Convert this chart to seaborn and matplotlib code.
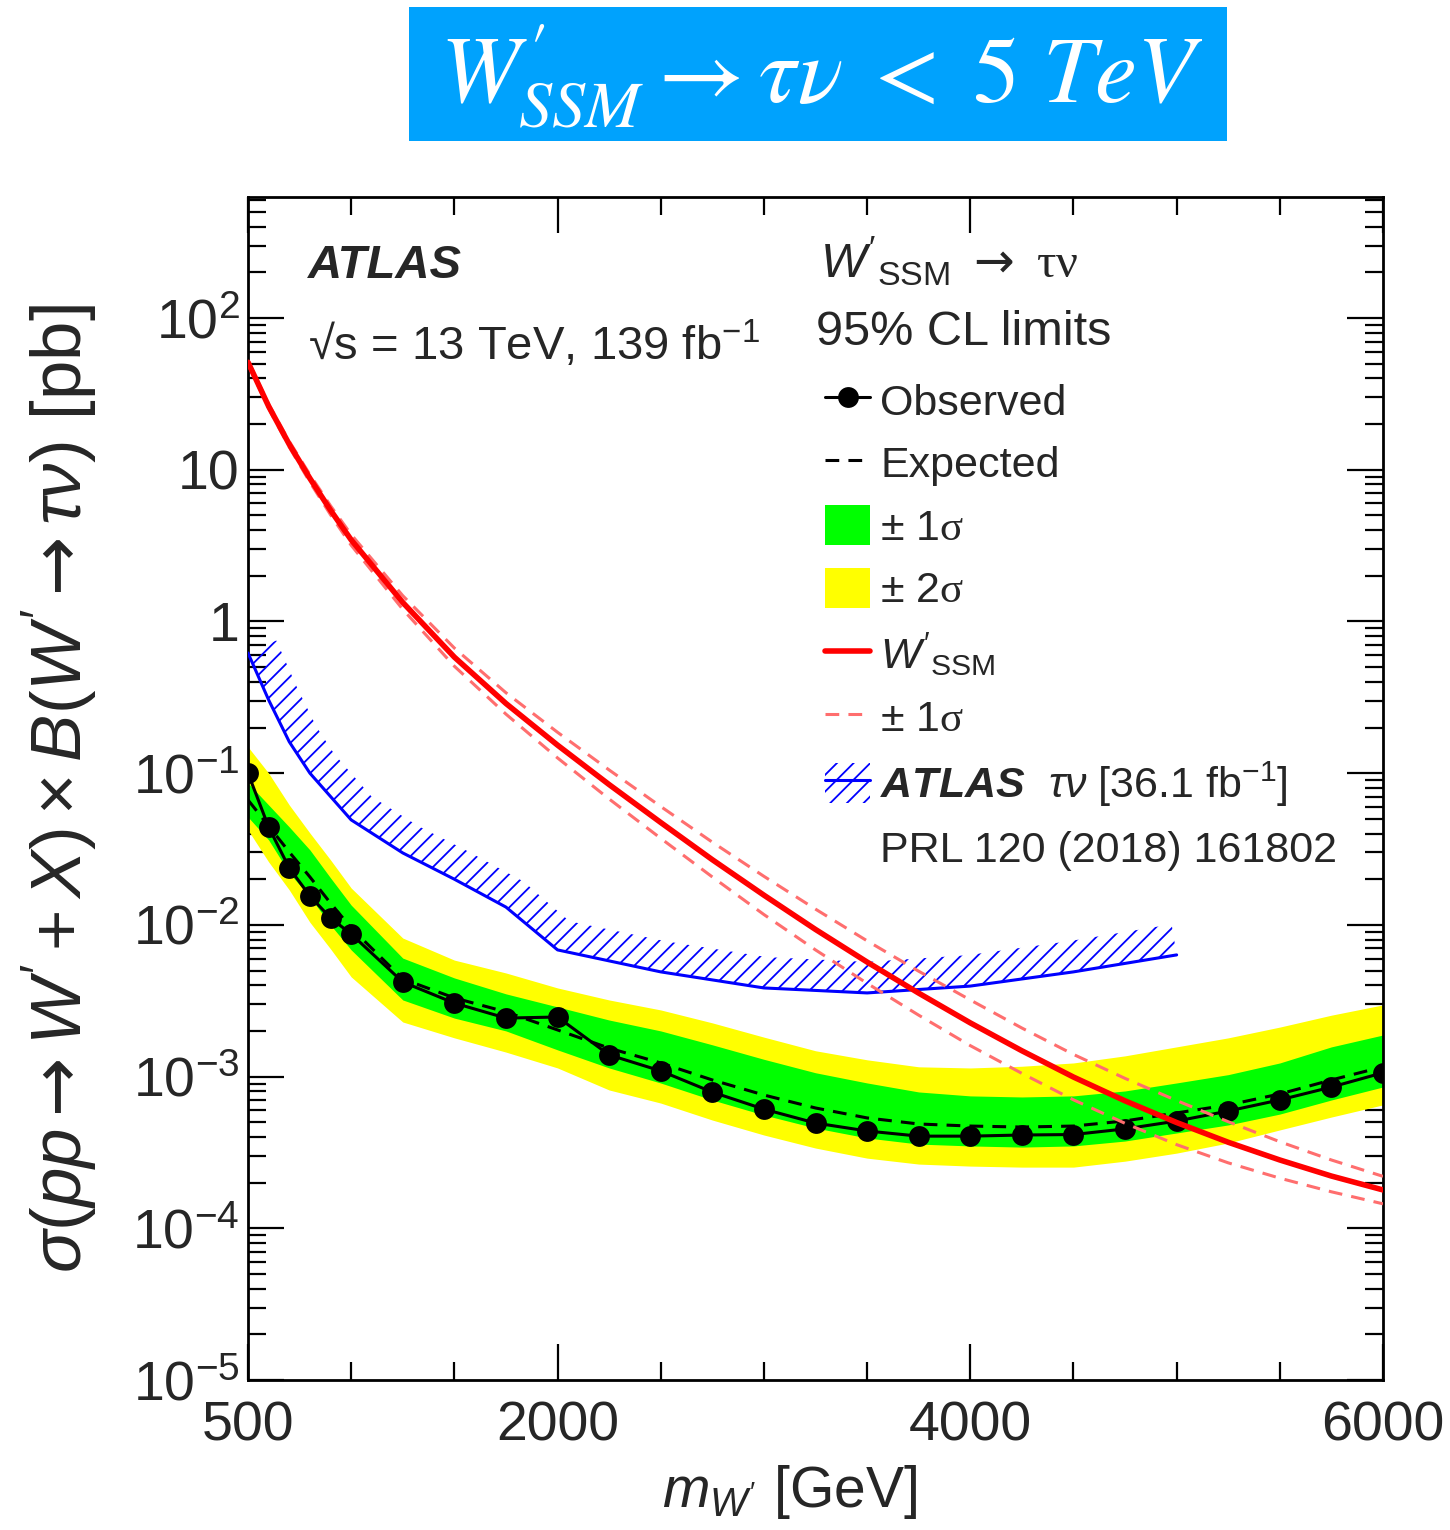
import numpy as np
import matplotlib
matplotlib.use("Agg")
import matplotlib.pyplot as plt
import seaborn as sns
from matplotlib.lines import Line2D
from matplotlib.patches import Patch, Rectangle, Polygon
from matplotlib.ticker import FixedLocator, FixedFormatter, LogLocator, NullFormatter

# ---------------- data ----------------
mass = [500, 600, 700, 800, 900, 1000, 1250, 1500, 1750, 2000, 2250, 2500, 2750,
        3000, 3250, 3500, 3750, 4000, 4250, 4500, 4750, 5000, 5250, 5500, 5750, 6000]
observed = [0.100, 0.0441, 0.0237, 0.0155, 0.0111, 0.0087, 0.0042, 0.00305, 0.00243,
            0.00247, 0.00139, 0.00109, 7.9e-4, 6.1e-4, 4.94e-4, 4.38e-4, 4.05e-4,
            4.05e-4, 4.12e-4, 4.15e-4, 4.52e-4, 5.09e-4, 5.93e-4, 7.02e-4, 8.53e-4, 1.06e-3]
expected = [0.0666, 0.0449, 0.0302, 0.0207, 0.0139, 0.00954, 0.00440, 0.00330, 0.00267,
            0.00203, 0.00154, 0.00123, 9.50e-4, 7.56e-4, 6.21e-4, 5.34e-4, 4.87e-4,
            4.72e-4, 4.65e-4, 4.72e-4, 5.10e-4, 5.76e-4, 6.50e-4, 7.68e-4, 9.50e-4, 1.16e-3]
exp_2up = [0.149, 0.100, 0.0617, 0.0403, 0.0268, 0.0175, 0.00819, 0.00586, 0.00482,
           0.00384, 0.00320, 0.00275, 0.00226, 0.00182, 0.00148, 0.00129, 0.00116,
           0.00114, 0.00117, 0.00123, 0.00137, 0.00157, 0.00180, 0.00212, 0.00254, 0.00297]
exp_1up = [0.0862, 0.0617, 0.0442, 0.0312, 0.0204, 0.0135, 0.00604, 0.00447, 0.00351,
           0.00288, 0.00236, 0.00200, 0.00162, 0.00130, 0.00106, 9.08e-4, 7.92e-4,
           7.46e-4, 7.34e-4, 7.46e-4, 8.04e-4, 9.08e-4, 0.00103, 0.00123, 0.00157, 0.00188]
exp_1dn = [0.0514, 0.0363, 0.0220, 0.0153, 0.00999, 0.00684, 0.00320, 0.00243, 0.00200,
           0.00150, 0.00114, 9.07e-4, 7.01e-4, 5.58e-4, 4.58e-4, 3.94e-4, 3.59e-4,
           3.49e-4, 3.43e-4, 3.49e-4, 3.76e-4, 4.25e-4, 4.80e-4, 5.66e-4, 7.01e-4, 8.54e-4]
exp_2dn = [0.0422, 0.0260, 0.0170, 0.0104, 0.00694, 0.00454, 0.00229, 0.00180, 0.00145,
           0.00114, 8.16e-4, 6.69e-4, 5.17e-4, 4.12e-4, 3.38e-4, 2.90e-4, 2.65e-4,
           2.57e-4, 2.53e-4, 2.53e-4, 2.77e-4, 3.13e-4, 3.65e-4, 4.45e-4, 5.41e-4, 6.51e-4]
theory = [51.1, 26.2, 14.7, 8.77, 5.41, 3.45, 1.334, 0.582, 0.288, 0.153, 0.0841, 0.0473,
          0.0269, 0.0157, 0.00933, 0.00569, 0.00355, 0.00226, 0.00148, 9.93e-4, 6.92e-4,
          4.98e-4, 3.69e-4, 2.82e-4, 2.21e-4, 1.79e-4]
theory_up = [52.5, 27.1, 15.4, 9.29, 5.79, 3.74, 1.479, 0.668, 0.339, 0.186, 0.105, 0.0603,
             0.0351, 0.0209, 0.0127, 0.00785, 0.00495, 0.00320, 0.00209, 0.00140, 9.73e-4,
             6.95e-4, 5.04e-4, 3.72e-4, 2.82e-4, 2.20e-4]
theory_dn = [49.7, 25.3, 14.1, 8.28, 5.05, 3.18, 1.202, 0.507, 0.245, 0.126, 0.0676, 0.0372,
             0.0207, 0.0117, 0.00684, 0.00412, 0.00254, 0.00160, 0.00105, 7.03e-4, 4.92e-4,
             3.56e-4, 2.70e-4, 2.14e-4, 1.74e-4, 1.45e-4]
old_mass = [500, 600, 700, 800, 1000, 1250, 1500, 1750, 2000, 2500, 3000, 3500, 4000, 4500, 5000]
old_limit = [0.62, 0.304, 0.161, 0.100, 0.0492, 0.0298, 0.0200, 0.0131, 0.00684, 0.00490,
             0.00384, 0.00356, 0.00395, 0.00490, 0.00634]

x_tick_vals = [500, 2000, 4000, 6000]
x_tick_labels = ["500", "2000", "4000", "6000"]
x_minor_vals = [1000, 1500, 2500, 3000, 3500, 4500, 5000, 5500]
y_tick_vals = [1e-5, 1e-4, 1e-3, 1e-2, 1e-1, 1, 10, 100]
y_tick_labels = [r"$10^{-5}$", r"$10^{-4}$", r"$10^{-3}$", r"$10^{-2}$", r"$10^{-1}$",
                 "1", "10", r"$10^{2}$"]

# ---------------- style ----------------
sns.set_style("ticks")
plt.rcParams["font.family"] = ["Liberation Sans", "DejaVu Sans"]
plt.rcParams["mathtext.fontset"] = "custom"
plt.rcParams["mathtext.rm"] = "Liberation Sans"
plt.rcParams["mathtext.it"] = "Liberation Sans:italic"
plt.rcParams["mathtext.bf"] = "Liberation Sans:italic:bold"
plt.rcParams["mathtext.sf"] = "Liberation Serif"
plt.rcParams["mathtext.cal"] = "DejaVu Sans"
plt.rcParams["hatch.linewidth"] = 1.3
plt.rcParams["axes.linewidth"] = 2.0

GREEN = "#00FF00"
YELLOW = "#FFFF00"
PINK = "#FF6E6E"
ARROW = r"\mathcal{\rightarrow}"

fig = plt.figure(figsize=(14.5, 15.3), dpi=100)
fig.patch.set_facecolor("white")
ax = fig.add_axes([248 / 1450, 150 / 1530, 1135 / 1450, 1183 / 1530])
ax.set_yscale("log")
ax.set_xlim(500, 6000)
ax.set_ylim(1e-5, 628)

# bands
ax.fill_between(mass, exp_2dn, exp_2up, color=YELLOW, lw=0, zorder=1)
ax.fill_between(mass, exp_1dn, exp_1up, color=GREEN, lw=0, zorder=2)

# expected & observed
sns.lineplot(x=mass, y=expected, ax=ax, color="black", lw=2.2, zorder=3, estimator=None)
ax.lines[-1].set_dashes([4.5, 3])
sns.lineplot(x=mass, y=observed, ax=ax, color="black", lw=2.2, marker="o",
             markersize=15, markeredgewidth=0, zorder=4, estimator=None)

# old ATLAS limit with hatch on the excluded side
sns.lineplot(x=old_mass, y=old_limit, ax=ax, color="blue", lw=2.2, zorder=5, estimator=None)
pts = ax.transData.transform(np.column_stack([old_mass, old_limit]))
tan = np.gradient(pts, axis=0)
tan = tan / np.linalg.norm(tan, axis=1)[:, None]
nrm = np.column_stack([-tan[:, 1], tan[:, 0]])
off = ax.transData.inverted().transform(pts + 31 * nrm)
poly = np.vstack([np.column_stack([old_mass, old_limit]), off[::-1]])
ax.add_patch(Polygon(poly, closed=True, facecolor="none", edgecolor="blue",
                     hatch="//", lw=0, zorder=5))

# theory
sns.lineplot(x=mass, y=theory_up, ax=ax, color=PINK, lw=2.2, zorder=6, estimator=None)
ax.lines[-1].set_dashes([4.5, 3])
sns.lineplot(x=mass, y=theory_dn, ax=ax, color=PINK, lw=2.2, zorder=6, estimator=None)
ax.lines[-1].set_dashes([4.5, 3])
sns.lineplot(x=mass, y=theory, ax=ax, color="red", lw=4, zorder=7, estimator=None)

# ---------------- axes ----------------
ax.xaxis.set_major_locator(FixedLocator(x_tick_vals))
ax.xaxis.set_major_formatter(FixedFormatter(x_tick_labels))
ax.xaxis.set_minor_locator(FixedLocator(x_minor_vals))
ax.yaxis.set_major_locator(FixedLocator(y_tick_vals))
ax.yaxis.set_major_formatter(FixedFormatter(y_tick_labels))
ax.yaxis.set_minor_locator(LogLocator(base=10, subs=np.arange(2, 10), numticks=30))
ax.yaxis.set_minor_formatter(NullFormatter())
ax.tick_params(which="major", direction="in", length=26, width=1.6, top=True,
               right=True, labelsize=40, color="black")
ax.tick_params(which="minor", direction="in", length=13, width=1.6, top=True,
               right=True, color="black")
ax.tick_params(axis="x", which="major", pad=15)
ax.tick_params(axis="y", which="major", pad=6)
for s in ax.spines.values():
    s.set_color("black")
    s.set_linewidth(2)

ax.set_ylabel(r"$\sigma(pp " + ARROW + r" W' + X) \times B(W' " + ARROW +
              r" \tau\nu)$ [pb]", fontsize=51)
ax.yaxis.set_label_coords(-0.13, 0.5)
ax.set_xlabel(r"$m_{W'}$ [GeV]", fontsize=41)
ax.xaxis.set_label_coords(0.4775, -0.07)

# ---------------- annotations ----------------
ax.text(0.0529, 0.9315, "ATLAS", transform=ax.transAxes, fontsize=34,
        fontweight="bold", fontstyle="italic", va="baseline", ha="left")
ax.text(0.0529, 0.862, "√s = 13 TeV, 139 fb$^{-1}$", transform=ax.transAxes,
        fontsize=34, va="baseline", ha="left")
ax.text(0.504, 0.9315, r"$W'_{\mathrm{SSM}}\ " + ARROW + r"\ \mathsf{\tau\nu}$",
        transform=ax.transAxes, fontsize=35, va="baseline", ha="left")
ax.text(0.5004, 0.875, "95% CL limits", transform=ax.transAxes, fontsize=35,
        va="baseline", ha="left")

h_obs = Line2D([], [], color="black", lw=2.2, marker="o", markersize=15, markeredgewidth=0)
h_exp = Line2D([], [], color="black", lw=2.2, dashes=[4.5, 3])
h_g = Patch(facecolor=GREEN, edgecolor="none")
h_y = Patch(facecolor=YELLOW, edgecolor="none")
h_th = Line2D([], [], color="red", lw=4)
h_thu = Line2D([], [], color=PINK, lw=2.2, dashes=[4.5, 3])
h_old = (Patch(facecolor="none", edgecolor="blue", hatch="//", lw=0),
         Line2D([], [], color="blue", lw=2.2))
h_prl = Line2D([], [], color="none")
labels = ["Observed", "Expected", r"± 1$\mathsf{\sigma}$", r"± 2$\mathsf{\sigma}$",
          r"$W'_{\mathrm{SSM}}$", r"± 1$\mathsf{\sigma}$",
          r"$\mathbf{ATLAS}$  $\tau\nu$ [36.1 fb$^{-1}$]", "PRL 120 (2018) 161802"]
ax.legend([h_obs, h_exp, h_g, h_y, h_th, h_thu, h_old, h_prl], labels,
          loc="upper left", bbox_to_anchor=(0.5084, 0.8453), frameon=False,
          fontsize=31, handlelength=1.05, handleheight=1.05, handletextpad=0.23,
          labelspacing=0.44, borderpad=0, borderaxespad=0, numpoints=1)

# ---------------- title banner ----------------
fig.add_artist(Rectangle((409 / 1450, 1 - 141 / 1530), (1227 - 409) / 1450, 134 / 1530,
                         transform=fig.transFigure, facecolor="#00A2FD",
                         edgecolor="none"))
fig.text(822 / 1450, 1 - 103 / 1530,
         r"$W^{\prime}_{SSM} \rightarrow \tau\nu\;<\;5\ TeV$",
         math_fontfamily="stix", color="white", fontsize=68, ha="center",
         va="baseline")

fig.savefig("out.png", dpi=100, facecolor="white")
